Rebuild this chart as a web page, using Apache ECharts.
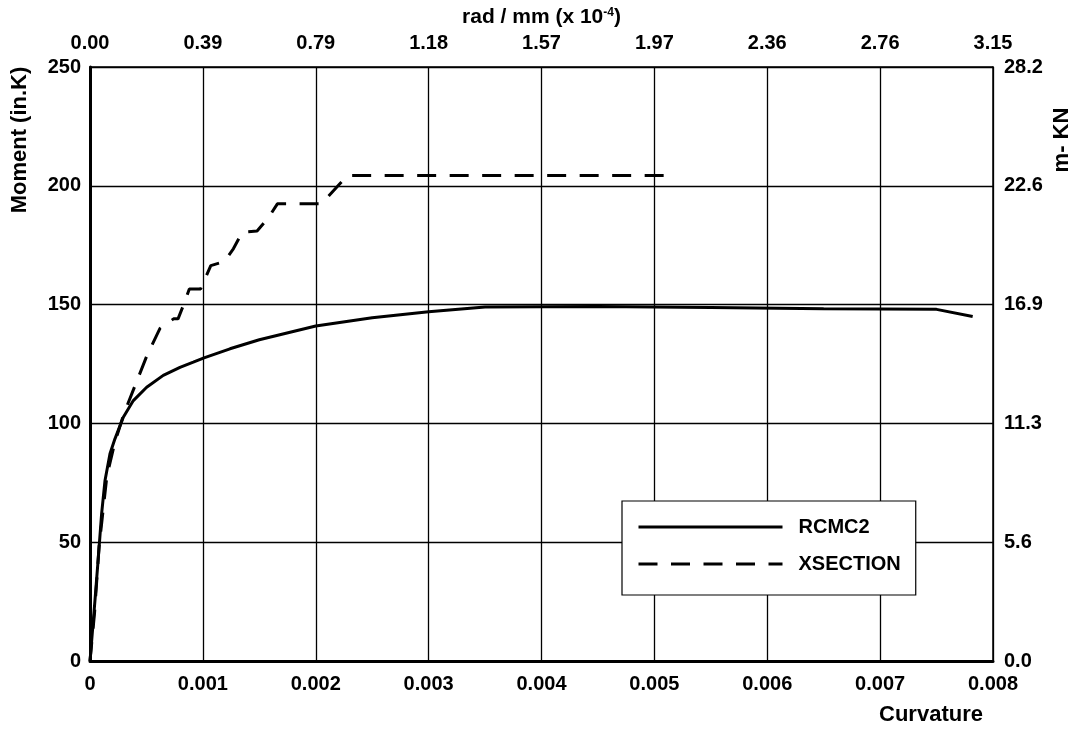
<!DOCTYPE html>
<html>
<head>
<meta charset="utf-8">
<script src="https://cdn.jsdelivr.net/npm/echarts@6/dist/echarts.min.js"></script>
<style>
html,body{margin:0;padding:0;background:#fff;}
#chart{width:1077px;height:732px;}
</style>
</head>
<body>
<div id="chart"></div>
<script>
// ---- data ----
const rcmc2Curvature = [0, 0.000044, 0.000074, 0.000103, 0.000133, 0.000177, 0.000221, 0.000295, 0.000384, 0.000502, 0.000649, 0.000797, 0.000915, 0.00101, 0.00124, 0.0015, 0.002, 0.0025, 0.003, 0.0035, 0.0045, 0.0055, 0.0065, 0.0075, 0.00782];
const rcmc2Moment    = [0, 25.5, 43.7, 62, 76, 87.2, 93.5, 102.6, 109.6, 115.2, 120.2, 123.6, 125.8, 127.6, 131.4, 135.2, 141, 144.5, 147, 149, 149.2, 148.8, 148.3, 148, 145];

const xsectionCurvature = [0, 0.00004, 0.00008, 0.00015, 0.00022, 0.0003, 0.0004, 0.0005, 0.00062, 0.00074, 0.00078, 0.00083, 0.00088, 0.00098, 0.00107, 0.00119, 0.00127, 0.00135, 0.00148, 0.00158, 0.00166, 0.00205, 0.00228, 0.00516];
const xsectionMoment    = [0, 20, 48, 78, 92, 104, 116, 128, 140, 144, 144, 150, 156.6, 156.6, 166.4, 168.1, 173.5, 180.5, 181, 186.5, 192.4, 192.4, 204.3, 204.3];

const bottomTickLabels = ['0', '0.001', '0.002', '0.003', '0.004', '0.005', '0.006', '0.007', '0.008'];
const topTickLabels = ['0.00', '0.39', '0.79', '1.18', '1.57', '1.97', '2.36', '2.76', '3.15'];
const leftTickLabels = ['0', '50', '100', '150', '200', '250'];
const rightTickLabels = ['0.0', '5.6', '11.3', '16.9', '22.6', '28.2'];

const seriesNames = ['RCMC2', 'XSECTION'];

function zip(a, b) { return a.map((v, i) => [v, b[i]]); }

const FONT = '"Liberation Sans", Arial, sans-serif';
const lbl = { color: '#000', fontFamily: FONT, fontWeight: 'bold', fontSize: 20 };

const chart = echarts.init(document.getElementById('chart'), null, { renderer: 'canvas' });
chart.setOption({
  animation: false,
  backgroundColor: '#fff',
  grid: { left: 90, right: 84, top: 67, bottom: 71, containLabel: false, outerBoundsMode: 'none' },
  legend: {
    orient: 'vertical',
    left: 622, top: 501,
    padding: [16, 15, 21, 15],
    itemGap: 17,
    itemWidth: 144, itemHeight: 14,
    backgroundColor: '#fff',
    borderColor: '#000', borderWidth: 1.2,
    itemStyle: { opacity: 0 },
    lineStyle: { width: 3 },
    textStyle: Object.assign({}, lbl, { lineHeight: 20, padding: [0, 0, 0, 11] }),
    data: seriesNames
  },
  xAxis: [
    {
      type: 'value', position: 'bottom', min: 0, max: 0.008, interval: 0.001,
      axisLine: { show: true, onZero: false, lineStyle: { color: '#000', width: 3 } },
      axisTick: { show: false },
      splitLine: { show: true, lineStyle: { color: '#000', width: 1.3 } },
      axisLabel: Object.assign({}, lbl, { margin: 13, formatter: v => bottomTickLabels[Math.round(v / 0.001)] })
    },
    {
      type: 'value', position: 'top', min: 0, max: 0.008, interval: 0.001,
      axisLine: { show: true, onZero: false, lineStyle: { color: '#000', width: 1.5 } },
      axisTick: { show: false },
      splitLine: { show: false },
      axisLabel: Object.assign({}, lbl, { margin: 14, formatter: v => topTickLabels[Math.round(v / 0.001)] }),
      name: 'rad / mm (x 10{sup|-4})',
      nameLocation: 'middle',
      nameGap: 35,
      nameTextStyle: Object.assign({}, lbl, { fontSize: 21, rich: { sup: { fontFamily: FONT, fontWeight: 'bold', fontSize: 12, color: '#000', verticalAlign: 'top' } } })
    }
  ],
  yAxis: [
    {
      type: 'value', position: 'left', min: 0, max: 250, interval: 50,
      axisLine: { show: true, onZero: false, lineStyle: { color: '#000', width: 3 } },
      axisTick: { show: false },
      splitLine: { show: true, lineStyle: { color: '#000', width: 1.3 } },
      axisLabel: Object.assign({}, lbl, { margin: 9, formatter: v => leftTickLabels[Math.round(v / 50)] })
    },
    {
      type: 'value', position: 'right', min: 0, max: 250, interval: 50,
      axisLine: { show: true, onZero: false, lineStyle: { color: '#000', width: 1.5 } },
      axisTick: { show: false },
      splitLine: { show: false },
      axisLabel: Object.assign({}, lbl, { margin: 11, formatter: v => rightTickLabels[Math.round(v / 50)] })
    }
  ],
  series: [
    {
      name: seriesNames[0], type: 'line', xAxisIndex: 0, yAxisIndex: 0,
      data: zip(rcmc2Curvature, rcmc2Moment),
      symbol: 'none', smooth: false,
      lineStyle: { color: '#000', width: 3 },
      itemStyle: { color: '#000' }
    },
    {
      name: seriesNames[1], type: 'line', xAxisIndex: 0, yAxisIndex: 0,
      data: zip(xsectionCurvature, xsectionMoment),
      symbol: 'none', smooth: false,
      lineStyle: { color: '#000', width: 3, type: [19, 13.5] },
      itemStyle: { color: '#000' }
    }
  ],
  graphic: [
    { type: 'text', x: 20, y: 140, rotation: Math.PI / 2,
      style: { text: 'Moment (in.K)', fill: '#000', font: 'bold 22px ' + FONT, textAlign: 'center', textVerticalAlign: 'middle' } },
    { type: 'text', x: 1062, y: 140, rotation: Math.PI / 2,
      style: { text: 'm- KN', fill: '#000', font: 'bold 22px ' + FONT, textAlign: 'center', textVerticalAlign: 'middle' } },
    { type: 'text', x: 931, y: 715,
      style: { text: 'Curvature', fill: '#000', font: 'bold 22px ' + FONT, textAlign: 'center', textVerticalAlign: 'middle' } }
  ]
});
</script>
</body>
</html>
